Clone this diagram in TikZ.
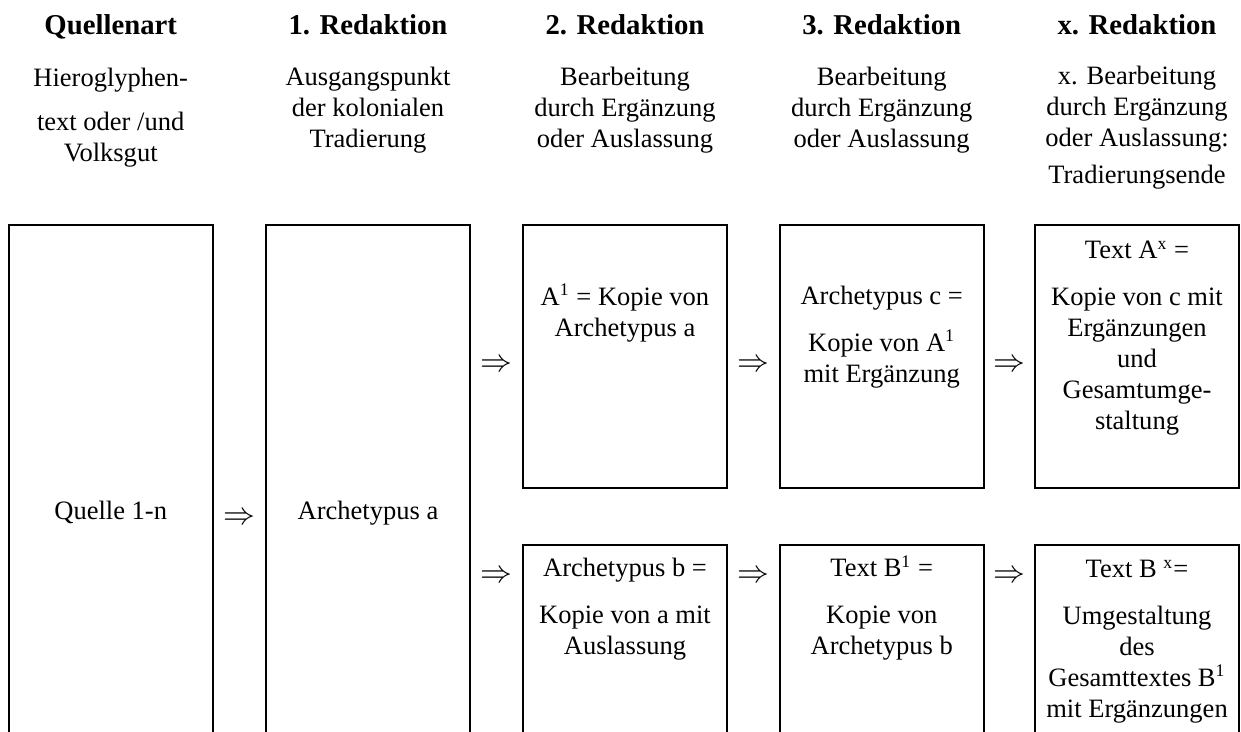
\documentclass[tikz,border=0pt]{standalone}
\usepackage{fontspec}
\setmainfont{Liberation Serif}
\usepackage{tikz}
\usetikzlibrary{calc}

\begin{document}
\begin{tikzpicture}[x=0.4525pt,y=-0.4525pt,
  kasten/.style={draw,line width=0.9pt,minimum width=92.3pt,inner sep=0pt,anchor=north},
  kopf/.style={font=\fontsize{13}{15}\selectfont\bfseries,anchor=base,inner sep=0pt},
  txt/.style={font=\fontsize{12}{14}\selectfont,align=center,anchor=base,inner sep=0pt},
  pfeil/.style={font=\fontsize{15}{16}\selectfont,inner sep=0pt}]
  \useasboundingbox (0,0) rectangle (1241,731);
  \clip (0,0) rectangle (1241,731);

  % Spaltenkoepfe (Anker = Grundlinie der letzten Zeile)
  \node[kopf] (h1) at (110.7,35) {Quellenart};
  \node[kopf] (h2) at (368,35) {1. Redaktion};
  \node[kopf] (h3) at (625,35) {2. Redaktion};
  \node[kopf] (h4) at (881.7,35) {3. Redaktion};
  \node[kopf] (h5) at (1137,35) {x. Redaktion};
  \node[txt] (u1) at (110.7,161) {Hieroglyphen-\\[5.5pt]text oder /und\\Volksgut};
  \node[txt] (u2) at (368,147) {Ausgangspunkt\\der kolonialen\\Tradierung};
  \node[txt] (u3) at (625,147) {Bearbeitung\\durch Ergänzung\\oder Auslassung};
  \node[txt] (u4) at (881.7,147) {Bearbeitung\\durch Ergänzung\\oder Auslassung};
  \node[txt] (u5) at (1137,183) {x. Bearbeitung\\durch Ergänzung\\oder Auslassung:\\[2.5pt]Tradierungsende};

  % Kaesten (unten offen, laufen aus dem Bild)
  \node[kasten,minimum height=270pt] (q) at (110.7,224) {};
  \node[kasten,minimum height=270pt] (a) at (368,224) {};
  \node[kasten,minimum height=119pt] (a1) at (625,224) {};
  \node[kasten,minimum height=125pt] (b) at (625,544) {};
  \node[kasten,minimum height=119pt] (c) at (881.7,224) {};
  \node[kasten,minimum height=125pt] (b1) at (881.7,544) {};
  \node[kasten,minimum height=119pt] (ax) at (1137,224) {};
  \node[kasten,minimum height=125pt] (bx) at (1137,544) {};

  % Kastentexte
  \node[txt] (tq) at (110.7,519) {Quelle 1-n};
  \node[txt] (ta) at (368,519) {Archetypus a};
  \node[txt] (ta1) at (625,336) {A\textsuperscript{1} = Kopie von\\Archetypus a};
  \node[txt] (tc) at (881.7,382) {Archetypus c =\\[7pt]Kopie von A\textsuperscript{1}\\mit Ergänzung};
  \node[txt] (tax) at (1137,429) {Text A\textsuperscript{x} =\\[7pt]Kopie von c mit\\Ergänzungen\\und\\Gesamtumge-\\staltung};
  \node[txt] (tb) at (625,654) {Archetypus b =\\[7pt]Kopie von a mit\\Auslassung};
  \node[txt] (tb1) at (881.7,654) {Text B\textsuperscript{1} =\\[7pt]Kopie von\\Archetypus b};
  \node[txt] (tbx) at (1137,717) {Text B \textsuperscript{x}=\\[7pt]Umgestaltung\\des\\Gesamttextes B\textsuperscript{1}\\mit Ergänzungen};

  % Pfeile
  \node[pfeil] (p1) at (239,519) {$\Rightarrow$};
  \node[pfeil] (p2) at (496,366) {$\Rightarrow$};
  \node[pfeil] (p3) at (496,577) {$\Rightarrow$};
  \node[pfeil] (p4) at (753,366) {$\Rightarrow$};
  \node[pfeil] (p5) at (753,577) {$\Rightarrow$};
  \node[pfeil] (p6) at (1009,366) {$\Rightarrow$};
  \node[pfeil] (p7) at (1009,577) {$\Rightarrow$};
\end{tikzpicture}
\end{document}
